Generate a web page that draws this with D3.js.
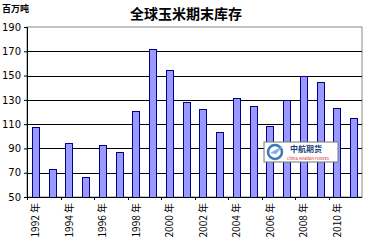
<!DOCTYPE html>
<html>
<head>
<meta charset="utf-8">
<script src="https://cdn.jsdelivr.net/npm/d3@7"></script>
<style>
  body { margin: 0; background: #fff; }
  text { font-family: "Noto Sans CJK SC", "DejaVu Sans", sans-serif; }
</style>
</head>
<body>
<div id="chart"></div>
<script>
// data
var years = ["1992", "1993", "1994", "1995", "1996", "1997", "1998", "1999", "2000", "2001",
             "2002", "2003", "2004", "2005", "2006", "2007", "2008", "2009", "2010", "2011"];
var stocks = [107.5, 72.8, 94.2, 66.2, 92.8, 86.8, 121.2, 171.6, 154.3, 128,
              122.2, 103.3, 131.3, 124.7, 108.2, 130.2, 149.6, 144.4, 122.9, 114.8];
var yTicks = [50, 70, 90, 110, 130, 150, 170, 190];

var W = 372, H = 242;
var margin = { top: 27, right: 10, bottom: 45, left: 27 },
    width = W - margin.left - margin.right,
    height = H - margin.top - margin.bottom;

var svg = d3.select("#chart").append("svg")
    .attr("width", W).attr("height", H);

// title and unit
svg.append("text")
    .attr("x", 186).attr("y", 19)
    .attr("text-anchor", "middle")
    .style("font-size", "14px").style("font-weight", "bold")
    .text("全球玉米期末库存");

svg.append("text")
    .attr("x", 2).attr("y", 12)
    .style("font-size", "9px").style("font-weight", "bold")
    .text("百万吨");

var g = svg.append("g")
    .attr("transform", "translate(" + margin.left + "," + margin.top + ")");

var x = d3.scaleBand().domain(years).range([0, width]).paddingInner(0.58).paddingOuter(0.29);
var y = d3.scaleLinear().domain([50, 190]).range([height, 0]);

// plot frame (grey top/right)
g.append("rect")
    .attr("x", 0).attr("y", 0).attr("width", width).attr("height", height)
    .attr("fill", "none").attr("stroke", "#888").attr("stroke-width", 1);

// gridlines
g.selectAll(".grid")
    .data(yTicks.filter(function (d) { return d > 50 && d < 190; }))
    .enter().append("line")
    .attr("x1", 0).attr("x2", width)
    .attr("y1", function (d) { return Math.round(y(d)) + 0.5; })
    .attr("y2", function (d) { return Math.round(y(d)) + 0.5; })
    .attr("stroke", "#000").attr("stroke-width", 1);

// bars
g.selectAll(".bar")
    .data(stocks)
    .enter().append("rect")
    .attr("x", function (d, i) { return Math.round(x(years[i])) + 0.5; })
    .attr("y", function (d) { return Math.round(y(d)) + 0.5; })
    .attr("width", Math.round(x.bandwidth()))
    .attr("height", function (d) { return Math.round(height - y(d)); })
    .attr("fill", "#9999ff").attr("stroke", "#000080").attr("stroke-width", 1);

// y axis
var yAxis = g.append("g")
    .call(d3.axisLeft(y).tickValues(yTicks).tickSize(3).tickPadding(3));
yAxis.select(".domain").attr("stroke", "#000");
yAxis.selectAll("text").style("font-size", "10px").style("font-family", "DejaVu Sans")
    .attr("fill", "#000");

// x axis: line, ticks every two categories
var step = x.step();
g.append("line")
    .attr("x1", 0).attr("x2", width)
    .attr("y1", height + 0.5).attr("y2", height + 0.5)
    .attr("stroke", "#000");

g.selectAll(".xtick")
    .data(years.filter(function (d, i) { return i % 2 === 0; }))
    .enter().append("line")
    .attr("x1", function (d, i) { return Math.round(i * 2 * step) + 0.5; })
    .attr("x2", function (d, i) { return Math.round(i * 2 * step) + 0.5; })
    .attr("y1", height).attr("y2", height + 3)
    .attr("stroke", "#000");

g.selectAll(".xlabel")
    .data(years.filter(function (d, i) { return i % 2 === 0; }))
    .enter().append("text")
    .attr("transform", function (d) {
        return "translate(" + (x(d) + x.bandwidth() / 2 + 4) + "," + (height + 6) + ") rotate(-90)";
    })
    .attr("text-anchor", "end")
    .style("font-size", "10px")
    .text(function (d) { return d + " 年"; });

// logo box
var logo = g.append("g").attr("transform", "translate(" + (264 - margin.left) + "," + (142 - margin.top) + ")");
logo.append("rect")
    .attr("width", 74).attr("height", 20)
    .attr("fill", "#fff").attr("stroke", "#777");
logo.append("circle").attr("cx", 11).attr("cy", 10).attr("r", 7)
    .attr("fill", "none").attr("stroke", "#3a78b8").attr("stroke-width", 2.5);
logo.append("path").attr("d", "M6,11 L19,4 L12,12 Z").attr("fill", "#7ab0e0");
logo.append("text").attr("x", 26).attr("y", 10)
    .style("font-size", "8px").style("font-weight", "bold").attr("fill", "#1d3f7a")
    .text("中航期货");
logo.append("text").attr("x", 23).attr("y", 17.5)
    .style("font-size", "4px").attr("fill", "#d02020")
    .text("China Aviation Futures");
</script>
</body>
</html>
